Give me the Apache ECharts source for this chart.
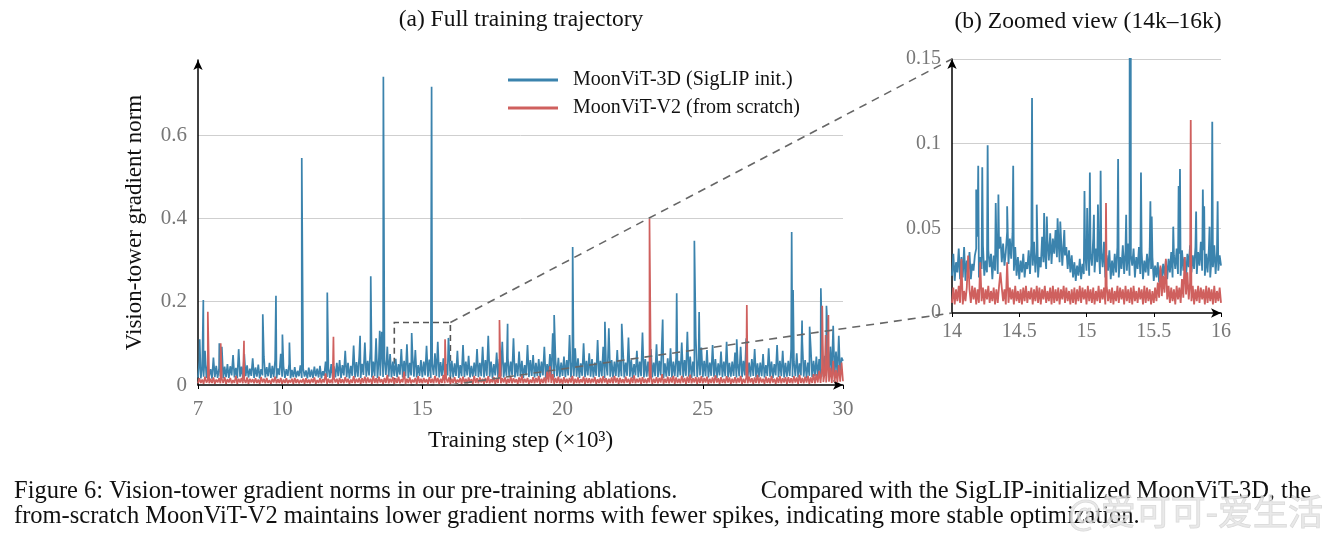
<!DOCTYPE html>
<html lang="en">
<head>
<meta charset="UTF-8">
<title>Vision-tower gradient norms</title>
<style>
  html, body { margin: 0; padding: 0; background: #fff; }
  #chart { width: 1329px; height: 543px; }
</style>
</head>
<body>
<div id="chart"></div>
<script src="https://cdn.jsdelivr.net/npm/echarts@6.0.0/dist/echarts.min.js"></script>
<script>
// series names
var nameBlue = 'MoonViT-3D (SigLIP init.)';
var nameRed = 'MoonViT-V2 (from scratch)';

// panel (a): full run, base noise every 0.05k steps from 7k, values in 1e-3
var fullStart = 7, fullStep = 0.05;
var fullBlue = [
  18,58,16,42,20,82,17,48,22,38,15,66,19,46,17,40,21,92,16,44,
  19,50,17,45,23,72,18,41,16,86,20,44,17,74,21,47,18,39,22,64,
  17,42,20,49,16,38,23,68,18,43,21,53,17,46,19,60,16,40,24,75,
  20,45,17,38,22,50,16,36,19,43,18,34,21,47,17,40,20,35,16,42,
  19,37,17,44,21,39,18,46,16,33,22,56,19,41,17,50,20,45,18,53,
  21,60,17,48,23,82,19,53,16,46,22,95,18,55,20,70,17,51,24,102,
  20,58,23,88,18,56,21,112,17,64,22,128,19,60,24,92,20,74,18,56,
  22,63,19,50,25,86,18,58,21,98,17,53,23,72,20,84,18,48,22,60,
  19,56,23,94,20,61,17,52,24,76,21,104,18,55,22,64,19,50,23,88,
  20,58,18,52,22,82,17,48,21,96,19,56,23,70,18,46,20,54,22,86,
  19,53,21,92,18,60,22,118,20,56,17,50,23,78,19,62,21,104,18,54,
  22,64,19,56,24,112,18,52,21,80,20,58,17,48,23,96,19,60,22,72,
  18,53,21,62,19,56,23,92,17,50,22,74,20,124,18,58,21,65,19,54,
  22,68,19,60,23,120,18,56,21,88,20,64,17,52,22,100,19,58,23,76,
  20,62,18,54,22,108,19,58,21,92,17,53,23,136,20,60,18,56,22,84,
  19,58,21,90,18,54,22,114,20,60,17,50,23,82,19,56,21,126,18,62,
  20,56,22,86,18,54,21,98,19,58,23,118,17,52,20,64,22,88,18,56,
  21,66,19,58,23,102,18,60,22,128,20,68,17,56,21,116,19,62,23,90,
  19,58,21,84,18,54,22,96,20,62,17,52,23,80,19,56,21,104,18,53,
  20,56,22,78,18,50,21,92,19,58,23,112,17,54,20,62,22,86,18,52,
  19,54,21,74,18,48,22,88,20,56,17,50,23,96,19,58,21,82,18,53,
  20,58,22,86,19,56,21,76,18,52,23,104,20,60,17,54,22,90,19,58,
  21,68,19,62,23,112,20,70,22,134,18,92,24,142,21,80,23,118,20,66,
  58
];
var fullRed = [
  4,16,5,13,3,20,6,12,4,15,5,18,3,13,6,16,4,14,5,19,
  3,14,6,17,4,12,5,22,3,15,6,17,4,13,5,18,3,15,6,14,
  4,16,5,13,3,19,6,15,4,17,5,12,3,15,6,20,4,14,5,17,
  3,13,5,16,4,12,6,15,3,17,5,14,4,12,6,15,3,16,5,13,
  4,15,6,18,3,12,5,16,4,14,6,28,3,15,5,13,4,17,6,15,
  3,17,5,14,4,19,6,15,3,13,5,21,4,15,6,17,3,16,5,20,
  4,18,6,15,3,22,5,16,4,20,6,14,3,17,5,24,4,15,6,19,
  3,16,5,20,4,14,6,32,3,15,5,18,4,13,6,17,3,21,5,15,
  4,17,6,14,3,19,5,15,4,22,6,17,3,15,5,24,4,16,6,18,
  3,15,5,19,4,13,6,17,3,20,5,15,4,18,6,14,3,22,5,16,
  4,18,6,15,3,17,5,21,4,14,6,19,3,15,5,30,4,16,6,18,
  3,15,5,20,4,16,6,14,3,18,5,23,4,15,6,17,3,13,5,19,
  4,17,6,22,3,15,5,18,4,32,6,45,5,26,3,17,5,20,4,15,
  3,19,5,15,4,17,6,22,3,15,5,18,4,14,6,20,3,17,5,16,
  4,15,6,19,3,14,5,17,4,21,6,16,3,15,5,18,4,22,6,17,
  3,17,5,14,4,20,6,15,3,18,5,23,4,15,6,17,3,19,5,15,
  4,16,6,21,3,15,5,19,4,17,6,26,3,15,5,20,4,18,6,22,
  3,18,5,15,4,22,6,17,3,20,5,25,4,16,6,19,3,18,5,21,
  4,17,6,20,3,15,5,18,4,23,6,16,3,19,5,15,4,21,6,18,
  3,15,5,19,4,17,6,22,3,15,5,18,4,20,6,16,3,18,5,24,
  4,18,6,15,3,20,5,17,4,22,6,15,3,18,5,21,4,16,6,19,
  3,19,5,16,4,21,6,18,3,24,5,17,4,20,6,22,3,18,5,26,
  4,26,6,34,5,40,7,30,6,50,8,42,5,58,7,36,6,48,8,54,
  9
];
// isolated spikes [step (k), norm]
var fullBlueSpikes = [
  [7.06,0.11],[7.19,0.204],[7.76,0.10],[9.31,0.17],[9.78,0.214],[10.01,0.121],
  [10.26,0.102],[10.70,0.545],[11.61,0.222],[12.78,0.118],[13.16,0.261],[13.48,0.13],
  [13.61,0.740],[14.62,0.125],[15.33,0.716],[15.93,0.113],[18.04,0.147],[19.70,0.168],
  [20.36,0.331],[21.51,0.152],[22.11,0.147],[23.57,0.157],[24.07,0.22],[24.70,0.346],
  [24.87,0.175],[26.21,0.11],[28.17,0.367],[28.22,0.228],[28.54,0.155],[28.81,0.14],
  [29.21,0.232],[29.41,0.19]
];
var fullRedSpikes = [
  [7.35,0.176],[7.81,0.10],[8.64,0.106],[11.83,0.116],[15.81,0.11],[17.75,0.156],
  [23.10,0.399],[26.57,0.192],[29.26,0.19],[29.38,0.12],[29.48,0.168]
];

// panel (b): 14k-16k, base noise every 0.01k, values in 1e-3
var zoomStart = 14, zoomStep = 0.01;
var zoomBlue = [
  22,35,19,30,24,38,20,33,21,39, 19,31,23,36,20,29,25,34,38,45,
  21,33,26,40,22,31,24,37,27,35, 20,34,25,42,23,38,45,30,41,28,
  36,48,29,44,32,47,25,39,22,33, 20,31,24,35,21,30,26,37,23,40,
  28,42,24,36,21,33,27,45,30,38, 26,43,31,47,29,44,35,49,33,46,
  30,45,28,42,34,39,26,37,24,34, 21,30,19,28,22,32,20,29,23,36,
  25,40,22,35,28,44,24,38,30,41, 23,36,27,42,21,34,25,37,20,31,
  22,35,24,39,21,33,26,40,23,37, 25,41,22,34,28,38,21,33,26,39,
  23,36,20,31,24,35,22,38,26,33, 19,28,21,30,18,27,20,29,22,31,
  20,32,24,36,21,34,26,38,23,35, 22,37,25,33,21,35,27,40,24,34,
  26,39,23,36,28,42,25,37,22,35, 24,38,21,33,27,40,23,36,25,34,
  28
];
var zoomRed = [
  6,15,5,14,7,16,6,32,5,13, 7,15,34,14,6,16,8,15,5,14,
  6,30,7,15,5,14,8,16,6,13, 7,15,5,14,6,16,24,15,7,14,
  5,30,6,15,8,14,5,16,7,13, 6,14,5,15,7,16,6,13,8,15,
  5,14,7,16,6,15,5,14,8,16, 6,13,7,15,5,16,6,14,7,15,
  5,14,8,16,6,15,7,13,5,14, 6,15,5,14,7,16,6,15,8,14,
  5,16,7,14,6,15,5,13,7,16, 6,14,8,15,5,16,7,14,6,15,
  5,13,7,16,6,15,8,14,5,16, 7,14,6,15,5,16,7,13,6,15,
  8,14,5,16,6,15,7,14,5,13, 6,15,7,18,9,28,10,22,12,32,
  8,16,6,15,7,14,5,16,8,15, 6,20,9,33,11,24,8,18,7,16,
  5,14,7,16,6,15,8,14,5,16, 6,15,7,14,5,16,6,13,7,15,
  6
];
var zoomBlueSpikes = [
  [14.18,0.073],[14.195,0.087],[14.225,0.086],[14.265,0.099],[14.325,0.065],[14.345,0.070],
  [14.41,0.063],[14.455,0.087],[14.595,0.127],[14.63,0.064],[14.685,0.059],[14.705,0.057],
  [14.785,0.056],[14.805,0.054],[14.835,0.049],[14.985,0.072],[15.005,0.062],[15.025,0.083],
  [15.055,0.058],[15.085,0.064],[15.105,0.084],[15.235,0.091],[15.295,0.058],[15.325,0.716],
  [15.405,0.083],[15.475,0.066],[15.485,0.057],[15.645,0.051],[15.685,0.075],[15.695,0.085],
  [15.815,0.060],[15.865,0.073],[15.875,0.063],[15.915,0.051],[15.935,0.113],[15.975,0.066]
];
var zoomRedSpikes = [[15.145,0.065],[15.775,0.114]];

var ticksFull = [7, 10, 15, 20, 25, 30];

var blue = '#3b83ad';
var red = '#cf605e';
var serif = '"Liberation Serif", "DejaVu Serif", serif';

function build(start, step, base, spikes) {
  var pts = base.map(function (v, i) {
    return [+(start + i * step).toFixed(3), v / 1000];
  });
  spikes.forEach(function (s) { pts.push(s); });
  pts.sort(function (a, b) { return a[0] - b[0]; });
  return pts;
}

function lineSeries(name, idx, data, color, width) {
  return {
    name: name,
    type: 'line',
    xAxisIndex: idx,
    yAxisIndex: idx,
    data: data,
    showSymbol: false,
    animation: false,
    clip: true,
    lineStyle: { width: width, color: color, join: 'bevel' },
    itemStyle: { color: color }
  };
}

function xAxisBase(idx, size, margin) {
  return {
    type: 'value',
    gridIndex: idx,
    axisLine: { onZero: false, lineStyle: { color: '#000', width: 1.5 }, symbol: ['none', 'arrow'], symbolSize: [7, 10] },
    axisTick: { show: true, length: 4, lineStyle: { color: '#000' } },
    axisLabel: { color: '#777', fontFamily: serif, fontSize: size, margin: margin },
    splitLine: { show: false }
  };
}

function yAxisBase(idx, size) {
  return {
    type: 'value',
    gridIndex: idx,
    min: 0,
    axisLine: { show: true, lineStyle: { color: '#000', width: 1.5 }, symbol: ['none', 'arrow'], symbolSize: [7, 10] },
    axisTick: { show: false },
    axisLabel: { color: '#777', fontFamily: serif, fontSize: size, margin: 11, showMaxLabel: false },
    splitLine: { show: true, showMinLine: false, lineStyle: { color: '#cfcfcf', width: 1 } }
  };
}

var xa = xAxisBase(0, 21, 14);
xa.min = 7; xa.max = 30;
xa.axisLabel.customValues = ticksFull;
xa.axisTick.customValues = ticksFull;
xa.name = 'Training step (\u00d710\u00b3)';
xa.nameLocation = 'middle';
xa.nameGap = 44;
xa.nameTextStyle = { color: '#111', fontFamily: serif, fontSize: 23 };

var xb = xAxisBase(1, 20, 9);
xb.min = 14; xb.max = 16; xb.interval = 0.5;

var ya = yAxisBase(0, 21);
ya.max = 0.78; ya.interval = 0.2;
ya.splitLine.showMaxLine = false;
ya.name = 'Vision-tower gradient norm';
ya.nameLocation = 'middle';
ya.nameGap = 52;
ya.nameTextStyle = { color: '#111', fontFamily: serif, fontSize: 23 };

var yb = yAxisBase(1, 20);
yb.max = 0.15; yb.interval = 0.05;
yb.axisLabel.showMaxLabel = true;

var blueFull = lineSeries(nameBlue, 0, build(fullStart, fullStep, fullBlue, fullBlueSpikes), blue, 1.7);
blueFull.markArea = {
  silent: true,
  label: { show: false },
  itemStyle: { color: 'rgba(0,0,0,0)', borderColor: '#555', borderWidth: 1.6, borderType: [6, 4] },
  data: [[{ xAxis: 14, yAxis: 0 }, { xAxis: 16, yAxis: 0.15 }]]
};

var chart = echarts.init(document.getElementById('chart'));
chart.setOption({
  backgroundColor: '#fff',
  animation: false,
  grid: [
    { left: 198, top: 60, width: 645, height: 325 },
    { left: 952, top: 59, width: 269, height: 254 }
  ],
  legend: {
    data: [nameBlue, nameRed],
    orient: 'vertical',
    left: 508,
    top: 70,
    padding: 0,
    icon: 'rect',
    itemWidth: 50,
    itemHeight: 3,
    itemGap: 8,
    textStyle: { color: '#111', fontFamily: serif, fontSize: 20, padding: [0, 0, 0, 10] }
  },
  xAxis: [xa, xb],
  yAxis: [ya, yb],
  series: [
    blueFull,
    lineSeries(nameRed, 0, build(fullStart, fullStep, fullRed, fullRedSpikes), red, 1.7),
    lineSeries(nameBlue, 1, build(zoomStart, zoomStep, zoomBlue, zoomBlueSpikes), blue, 1.8),
    lineSeries(nameRed, 1, build(zoomStart, zoomStep, zoomRed, zoomRedSpikes), red, 1.8)
  ],
  graphic: [
    { id: 'titleA', type: 'text', x: 521, y: 20, silent: true,
      style: { text: '(a) Full training trajectory', fill: '#111', font: '23.5px ' + serif, textAlign: 'center', textVerticalAlign: 'middle' } },
    { id: 'titleB', type: 'text', x: 1088, y: 22, silent: true,
      style: { text: '(b) Zoomed view (14k\u201316k)', fill: '#111', font: '23.5px ' + serif, textAlign: 'center', textVerticalAlign: 'middle' } },
    { id: 'cap1a', type: 'text', x: 14, y: 492, silent: true,
      style: { text: 'Figure 6: Vision-tower gradient norms in our pre-training ablations.', fill: '#111', font: '24.5px ' + serif, textAlign: 'left', textVerticalAlign: 'middle' } },
    { id: 'cap1b', type: 'text', x: 1311, y: 492, silent: true,
      style: { text: 'Compared with the SigLIP-initialized MoonViT-3D, the', fill: '#111', font: '24.5px ' + serif, textAlign: 'right', textVerticalAlign: 'middle' } },
    { id: 'cap2', type: 'text', x: 14, y: 517, silent: true,
      style: { text: 'from-scratch MoonViT-V2 maintains lower gradient norms with fewer spikes, indicating more stable optimization.', fill: '#111', font: '24.5px ' + serif, textAlign: 'left', textVerticalAlign: 'middle' } },
    { id: 'mark', type: 'text', x: 1323, y: 512, silent: true, z: 200,
      style: { text: '@爱可可-爱生活', fill: 'rgba(225,225,225,0.75)', stroke: 'rgba(160,160,160,0.4)', lineWidth: 1, font: '35px "Noto Sans CJK SC", sans-serif', textAlign: 'right', textVerticalAlign: 'middle' } }
  ]
});

// dashed connectors from the box in (a) to the corners of (b)
var aTop = chart.convertToPixel({ gridIndex: 0 }, [16, 0.15]);
var aBot = chart.convertToPixel({ gridIndex: 0 }, [16, 0]);
var bTop = chart.convertToPixel({ gridIndex: 1 }, [14, 0.15]);
var bBot = chart.convertToPixel({ gridIndex: 1 }, [14, 0]);
var dash = { stroke: '#666', lineWidth: 1.6, lineDash: [8, 6] };
chart.setOption({
  graphic: [
    { id: 'connTop', type: 'line', silent: true, z: 100,
      shape: { x1: aTop[0], y1: aTop[1], x2: bTop[0], y2: bTop[1] }, style: dash },
    { id: 'connBot', type: 'line', silent: true, z: 100,
      shape: { x1: aBot[0], y1: aBot[1], x2: bBot[0], y2: bBot[1] }, style: dash }
  ]
});
</script>
</body>
</html>
